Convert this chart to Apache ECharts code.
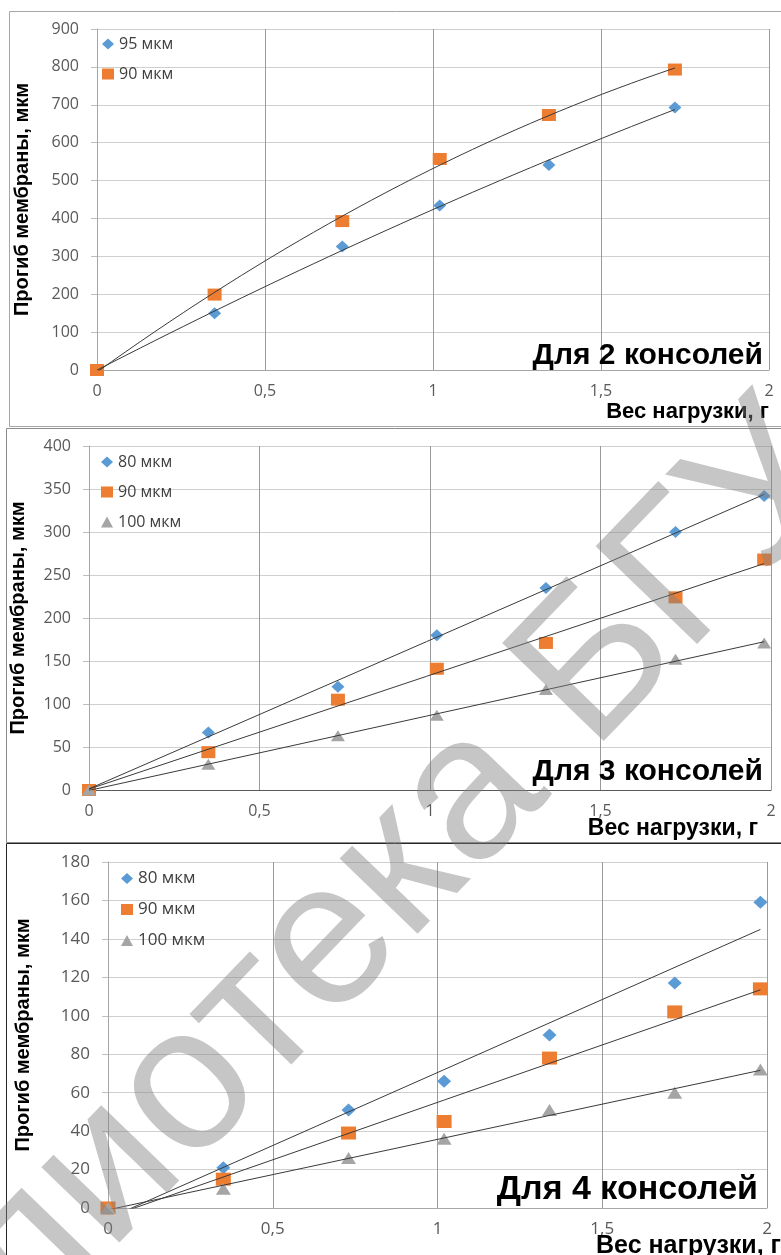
<!DOCTYPE html>
<html>
<head>
<meta charset="utf-8">
<script src="https://cdn.jsdelivr.net/npm/echarts/dist/echarts.min.js"></script>
<style>
  html, body { margin: 0; padding: 0; background: #fff; }
  #chart { width: 781px; height: 1255px; }
</style>
</head>
<body>
<div id="chart"></div>
<script>
// нагрузка, г
const loadX2 = [0, 0.35, 0.73, 1.02, 1.345, 1.72]
const loadX = [0, 0.35, 0.73, 1.02, 1.34, 1.72, 1.98]

// Для 2 консолей
const two95 = [0, 150, 326, 434, 541, 693]
const two90 = [0, 199, 393, 557, 673, 793]
// Для 3 консолей
const three80 = [0, 67, 120, 180, 235, 300, 342]
const three90 = [0, 44, 105, 141, 171, 224, 268]
const three100 = [0, 30, 63, 87, 117, 152, 171]
// Для 4 консолей
const four80 = [0, 21, 51, 66, 90, 117, 159]
const four90 = [0, 15, 39, 45, 78, 102, 114]
const four100 = [0, 10, 26, 36, 51, 60, 72]

const BLUE = '#5b9bd5'
const ORANGE = '#ed7d31'
const GRAY = '#a5a5a5'
const FONT = '"Open Sans", "Noto Sans", sans-serif'
const BOLD = '"Liberation Sans", Arial, sans-serif'

function pts(xs, ys) {
  return xs.map((x, i) => [x, ys[i]])
}

// линейный тренд (МНК)
function linTrend(xs, ys) {
  const n = xs.length
  const mx = xs.reduce((a, b) => a + b, 0) / n
  const my = ys.reduce((a, b) => a + b, 0) / n
  let sxy = 0, sxx = 0
  xs.forEach((x, i) => { sxy += (x - mx) * (ys[i] - my); sxx += (x - mx) * (x - mx) })
  const k = sxy / sxx
  const b = my - k * mx
  const xmax = Math.max(...xs)
  return [[0, b], [xmax, k * xmax + b]]
}

// полиномиальный тренд 2 степени
function quadTrend(xs, ys) {
  const s = [0, 0, 0, 0, 0], t = [0, 0, 0]
  xs.forEach((x, i) => {
    for (let p = 0; p < 5; p++) s[p] += Math.pow(x, p)
    for (let p = 0; p < 3; p++) t[p] += Math.pow(x, p) * ys[i]
  })
  const m = [[s[0], s[1], s[2], t[0]], [s[1], s[2], s[3], t[1]], [s[2], s[3], s[4], t[2]]]
  for (let c = 0; c < 3; c++) {
    for (let r = c + 1; r < 3; r++) {
      const f = m[r][c] / m[c][c]
      for (let k = c; k < 4; k++) m[r][k] -= f * m[c][k]
    }
  }
  const a = [0, 0, 0]
  for (let r = 2; r >= 0; r--) {
    let v = m[r][3]
    for (let k = r + 1; k < 3; k++) v -= m[r][k] * a[k]
    a[r] = v / m[r][r]
  }
  const xmax = Math.max(...xs)
  const out = []
  for (let i = 0; i <= 40; i++) {
    const x = xmax * i / 40
    out.push([x, a[0] + a[1] * x + a[2] * x * x])
  }
  return out
}

const chart = echarts.init(document.getElementById('chart'))

const grids = [
  { left: 97, right: 12, top: 29, height: 341 },
  { left: 89, right: 10, top: 446, height: 344 },
  { left: 108, right: 14, top: 862, height: 346 }
]
const yMax = [900, 400, 180]
const yStep = [100, 50, 20]
const nameGaps = [65, 61, 75]
const labelSize = [16, 16, 17]
const baseColor = ['#a6a6a6', '#595959', '#a6a6a6']

const xAxis = grids.map((g, i) => ({
  type: 'value',
  gridIndex: i,
  min: 0,
  max: 2,
  interval: 0.5,
  axisLine: { show: true, onZero: false, lineStyle: { color: baseColor[i] } },
  axisTick: { show: false },
  axisLabel: {
    margin: 13,
    color: '#595959',
    fontFamily: FONT,
    fontSize: labelSize[i],
    formatter: v => String(v).replace('.', ',')
  },
  splitLine: { show: true, lineStyle: { color: '#9a9a9a' } }
}))

const yAxis = grids.map((g, i) => ({
  type: 'value',
  gridIndex: i,
  min: 0,
  max: yMax[i],
  interval: yStep[i],
  name: 'Прогиб мембраны, мкм',
  nameLocation: 'middle',
  nameRotate: 90,
  nameGap: nameGaps[i],
  nameTextStyle: { fontFamily: BOLD, fontWeight: 'bold', fontSize: 20, color: '#000' },
  axisLine: { show: true, lineStyle: { color: '#a6a6a6' } },
  axisTick: { show: true, length: 6, lineStyle: { color: '#bfbfbf' } },
  axisLabel: { margin: 18, color: '#595959', fontFamily: FONT, fontSize: labelSize[i] },
  splitLine: { show: true, lineStyle: { color: '#cfcfcf' } }
}))

function scatter(name, gi, data, symbol, size, color) {
  return {
    type: 'scatter',
    name: name,
    xAxisIndex: gi,
    yAxisIndex: gi,
    data: data,
    symbol: symbol,
    symbolSize: size,
    itemStyle: { color: color, opacity: 1 },
    z: 2
  }
}

function trend(gi, data) {
  return {
    type: 'line',
    xAxisIndex: gi,
    yAxisIndex: gi,
    data: data,
    showSymbol: false,
    silent: true,
    clip: true,
    lineStyle: { color: '#3a3a3a', width: 1 },
    z: 3
  }
}

const series = [
  scatter('95 мкм', 0, pts(loadX2, two95), 'diamond', [13, 12], BLUE),
  scatter('90 мкм', 0, pts(loadX2, two90), 'rect', [14, 12], ORANGE),
  trend(0, quadTrend(loadX2, two95)),
  trend(0, quadTrend(loadX2, two90)),

  scatter('80 мкм', 1, pts(loadX, three80), 'diamond', [13, 12], BLUE),
  scatter('90 мкм', 1, pts(loadX, three90), 'rect', [14, 12], ORANGE),
  scatter('100 мкм', 1, pts(loadX, three100), 'triangle', [14, 11], GRAY),
  trend(1, linTrend(loadX, three80)),
  trend(1, linTrend(loadX, three90)),
  trend(1, linTrend(loadX, three100)),

  scatter('80 мкм', 2, pts(loadX, four80), 'diamond', [14, 13], BLUE),
  scatter('90 мкм', 2, pts(loadX, four90), 'rect', [15, 13], ORANGE),
  scatter('100 мкм', 2, pts(loadX, four100), 'triangle', [15, 12], GRAY),
  trend(2, linTrend(loadX, four80)),
  trend(2, linTrend(loadX, four90)),
  trend(2, linTrend(loadX, four100))
]

function legend(left, top, size, items) {
  return {
    orient: 'vertical',
    left: left,
    top: top,
    padding: 0,
    itemGap: 14,
    itemWidth: 12,
    itemHeight: 11,
    selectedMode: false,
    textStyle: { fontFamily: FONT, fontSize: size, color: '#404040', lineHeight: 16 },
    data: items
  }
}

const legends = [
  legend(102, 36, 16, [{ name: '95 мкм', icon: 'diamond' }, { name: '90 мкм', icon: 'rect' }]),
  legend(101, 454, 16, [{ name: '80 мкм', icon: 'diamond' }, { name: '90 мкм', icon: 'rect' }, { name: '100 мкм', icon: 'triangle' }]),
  legend(121, 870, 17, [{ name: '80 мкм', icon: 'diamond' }, { name: '90 мкм', icon: 'rect' }, { name: '100 мкм', icon: 'triangle' }])
]

function label(text, x, y, size, align) {
  return {
    type: 'text',
    x: x,
    y: y,
    z: 10,
    style: {
      text: text,
      fill: '#000',
      font: 'bold ' + size + 'px ' + BOLD,
      textAlign: align,
      textVerticalAlign: 'middle'
    }
  }
}

function frame(x, y, h, color) {
  return {
    type: 'rect',
    shape: { x: x, y: y, width: 900, height: h },
    style: { fill: null, stroke: color, lineWidth: 1 },
    z: 0
  }
}

const graphic = [
  frame(9.5, 11.5, 415, '#a6a6a6'),
  frame(6.5, 428.5, 414, '#8c8c8c'),
  frame(6.5, 843.5, 500, '#262626'),
  label('Для 2 консолей', 763, 356, 30, 'right'),
  label('Для 3 консолей', 763, 772, 30, 'right'),
  label('Для 4 консолей', 758, 1190, 34, 'right'),
  label('Вес нагрузки, г', 769, 412, 22, 'right'),
  label('Вес нагрузки, г', 758, 829, 23, 'right'),
  label('Вес нагрузки, г', 596, 1246, 25, 'left'),
  // водяной знак
  {
    type: 'text',
    x: 275,
    y: 1000,
    rotation: 46 * Math.PI / 180,
    z: 100,
    silent: true,
    style: {
      text: 'Библиотека БГУ',
      fill: 'rgba(128,128,128,0.45)',
      font: '205px "Liberation Sans", Arial, sans-serif',
      textAlign: 'center',
      textVerticalAlign: 'middle'
    }
  }
]

chart.setOption({
  animation: false,
  backgroundColor: '#fff',
  grid: grids,
  xAxis: xAxis,
  yAxis: yAxis,
  legend: legends,
  series: series,
  graphic: graphic
})
</script>
</body>
</html>
